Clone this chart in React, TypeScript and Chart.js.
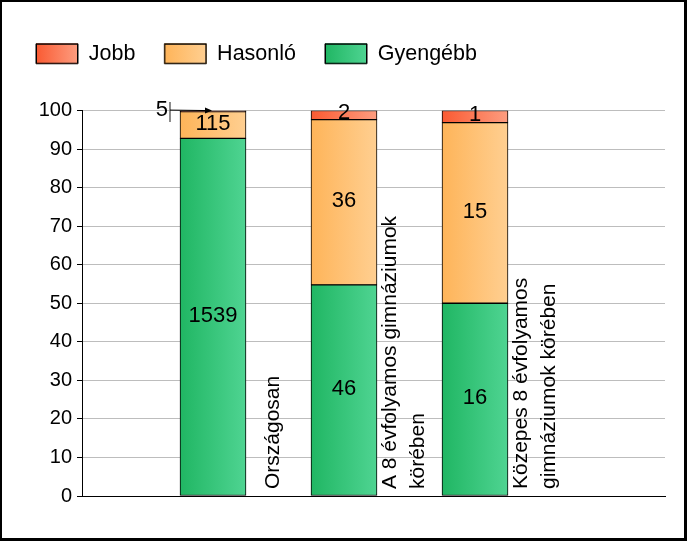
import React, { useEffect, useRef } from "react";
import { Chart, registerables } from "chart.js";

Chart.register(...registerables);

// ---- data ----
const categoryLines: string[][] = [
  ["Országosan"],
  ["A 8 évfolyamos gimnáziumok", "körében"],
  ["Közepes 8 évfolyamos", "gimnáziumok körében"],
];
const xPositions = [1, 2, 3];
const gyengebbCounts = [1539, 46, 16];
const hasonloCounts = [115, 36, 15];
const jobbCounts = [5, 2, 1];
const seriesNames = ["Gyengébb", "Hasonló", "Jobb"];
const seriesCounts = [gyengebbCounts, hasonloCounts, jobbCounts];
const seriesStops: [string, string][] = [
  ["#20b663", "#4fd492"],
  ["#feb459", "#ffcf91"],
  ["#fa5a32", "#fd9d80"],
];

const W = 687;
const H = 541;
const BAR_W = 66;
const FONT = '"Liberation Sans", Arial, sans-serif';

const totals = xPositions.map((_, i) =>
  seriesCounts.reduce((s, arr) => s + arr[i], 0)
);

function barGradient(chart: any, dataIndex: any, stops: [string, string]) {
  const xs = chart.scales && chart.scales.x;
  if (!chart.chartArea || !xs || dataIndex == null) return stops[0];
  const cx = xs.getPixelForValue(xPositions[dataIndex]);
  if (!isFinite(cx)) return stops[0];
  const g = chart.ctx.createLinearGradient(cx - BAR_W / 2, 0, cx + BAR_W / 2, 0);
  g.addColorStop(0, stops[0]);
  g.addColorStop(1, stops[1]);
  return g;
}

const decorPlugin = {
  id: "decor",
  afterDatasetsDraw(chart: any) {
    const ctx = chart.ctx as CanvasRenderingContext2D;
    ctx.save();
    ctx.font = `22px ${FONT}`;
    ctx.fillStyle = "#000";
    // value labels
    chart.data.datasets.forEach((_: any, di: number) => {
      const meta = chart.getDatasetMeta(di);
      meta.data.forEach((el: any, i: number) => {
        const { x, y, base, width } = el.getProps(["x", "y", "base", "width"], true);
        const v = seriesCounts[di][i];
        const h = Math.abs(base - y);
        const cy = (y + base) / 2;
        if (h < 4) {
          const left = x - width / 2;
          const ly = cy - 1;
          ctx.textAlign = "right";
          ctx.textBaseline = "middle";
          ctx.fillText(String(v), left - 12, ly);
          ctx.strokeStyle = "#666";
          ctx.lineWidth = 1.5;
          ctx.beginPath();
          ctx.moveTo(left - 10, ly - 8);
          ctx.lineTo(left - 10, ly + 12);
          ctx.stroke();
          ctx.strokeStyle = "#000";
          ctx.lineWidth = 1;
          ctx.beginPath();
          ctx.moveTo(left - 10, ly);
          ctx.lineTo(x - 4, ly + 0.5);
          ctx.stroke();
          ctx.beginPath();
          ctx.moveTo(x - 1, ly + 0.5);
          ctx.lineTo(x - 8, ly - 2.5);
          ctx.lineTo(x - 8, ly + 3.5);
          ctx.closePath();
          ctx.fill();
        } else {
          ctx.textAlign = "center";
          ctx.textBaseline = "middle";
          const lift = h < 20 ? 2 : 1;
          ctx.fillText(String(v), x, cy - lift);
        }
      });
    });
    // category labels (rotated, right of each bar)
    ctx.font = `21px ${FONT}`;
    const xs = chart.scales.x;
    const bottom = chart.chartArea.bottom;
    categoryLines.forEach((lines, i) => {
      const cx = xs.getPixelForValue(xPositions[i]) + 60;
      lines.forEach((line, j) => {
        const lx = cx + (j - (lines.length - 1) / 2) * 28;
        ctx.save();
        ctx.translate(lx, bottom - 7);
        ctx.rotate(-Math.PI / 2);
        ctx.textAlign = "left";
        ctx.textBaseline = "middle";
        ctx.fillText(line, 0, 0);
        ctx.restore();
      });
    });
    ctx.restore();
  },
  afterDraw(chart: any) {
    const ctx = chart.ctx as CanvasRenderingContext2D;
    ctx.save();
    // legend gradient boxes
    const lg = chart.legend;
    if (lg && lg.legendItems && lg.legendHitBoxes) {
      lg.legendItems.forEach((item: any, k: number) => {
        const hb = lg.legendHitBoxes[k];
        if (!hb) return;
        const stops = seriesStops[item.datasetIndex];
        const top = hb.top + (hb.height - 20) / 2;
        const g = ctx.createLinearGradient(hb.left, 0, hb.left + 42, 0);
        g.addColorStop(0, stops[0]);
        g.addColorStop(1, stops[1]);
        ctx.fillStyle = g;
        ctx.fillRect(hb.left, top, 42, 20);
        ctx.strokeStyle = "#000";
        ctx.lineWidth = 1;
        ctx.strokeRect(hb.left + 0.5, top + 0.5, 41, 19);
      });
    }
    // outer frame
    ctx.fillStyle = "#000";
    ctx.fillRect(0, 0, W, 2);
    ctx.fillRect(0, 0, 2, H);
    ctx.fillRect(W - 3, 0, 3, H);
    ctx.fillRect(0, H - 3, W, 3);
    ctx.restore();
  },
};

export default function App() {
  const ref = useRef<HTMLCanvasElement | null>(null);

  useEffect(() => {
    document.body.style.margin = "0";
    if (!ref.current) return;
    const datasets = seriesNames.map((name, si) => ({
      label: name,
      data: xPositions.map((x, i) => ({
        x,
        y: (seriesCounts[si][i] / totals[i]) * 100,
      })),
      backgroundColor: (c: any) => barGradient(c.chart, c.dataIndex, seriesStops[si]),
      borderColor: "#000",
      borderWidth: 1,
      borderSkipped: false as const,
      barThickness: BAR_W,
    }));

    const chart = new Chart(ref.current, {
      type: "bar",
      data: { datasets: datasets as any },
      options: {
        animation: false,
        responsive: true,
        maintainAspectRatio: false,
        devicePixelRatio: 1,
        layout: { padding: { left: 7, right: 22, top: 14, bottom: 45 } },
        font: { family: FONT, size: 20 } as any,
        plugins: {
          legend: {
            display: true,
            position: "top",
            align: "start",
            reverse: true,
            labels: {
              boxWidth: 42,
              boxHeight: 20,
              padding: 29,
              color: "#000",
              font: { family: FONT, size: 21.5 },
            },
          },
          title: {
            display: true,
            text: "",
            weight: 500,
            font: { size: 10 },
            padding: { top: 0, bottom: 24 },
          } as any,
          tooltip: { enabled: false },
        },
        scales: {
          x: {
            type: "linear",
            stacked: true,
            offset: false,
            min: 0,
            max: 583 / 131,
            ticks: { display: false },
            grid: { display: false },
            border: { display: true, color: "#000", width: 1 },
            afterFit: (s: any) => {
              s.height = 0;
            },
          },
          y: {
            stacked: true,
            min: 0,
            max: 100,
            ticks: {
              stepSize: 10,
              color: "#000",
              padding: 5,
              font: { family: FONT, size: 20 },
            },
            grid: {
              color: "#bdbdbd",
              tickColor: "#000",
              tickLength: 5,
              drawTicks: true,
            },
            border: { display: true, color: "#000", width: 1 },
            afterFit: (s: any) => {
              s.width = 75;
            },
          },
        },
      },
      plugins: [decorPlugin],
    });
    return () => chart.destroy();
  }, []);

  return (
    <div style={{ width: W, height: H, position: "relative" }}>
      <canvas ref={ref} />
    </div>
  );
}
